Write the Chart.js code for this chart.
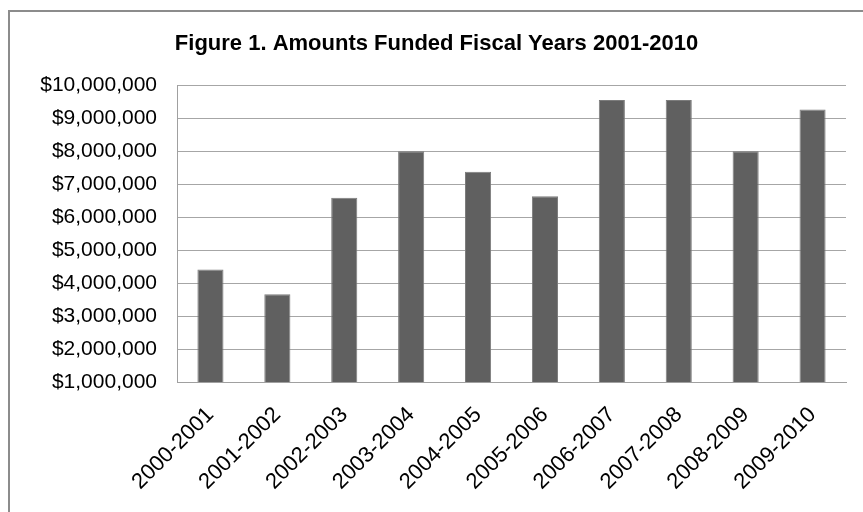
<!DOCTYPE html>
<html>
<head>
<meta charset="utf-8">
<script src="https://cdn.jsdelivr.net/npm/chart.js@4.4.0/dist/chart.umd.min.js"></script>
<style>
  html, body { margin: 0; padding: 0; background: #fff; overflow: hidden; }
  #wrap { position: relative; width: 863px; height: 512px; }
  #frame {
    position: absolute; left: 8px; top: 10px; width: 900px; height: 600px;
    border-left: 2px solid #8c8c8c; border-top: 2px solid #8c8c8c;
    box-sizing: border-box; pointer-events: none;
  }
  canvas { position: absolute; left: 0; top: 0; }
</style>
</head>
<body>
<div id="wrap">
  <canvas id="chart" width="863" height="512"></canvas>
  <div id="frame"></div>
</div>
<script>
const title = "Figure 1. Amounts Funded Fiscal Years 2001-2010";
const years = ["2000-2001", "2001-2002", "2002-2003", "2003-2004", "2004-2005",
  "2005-2006", "2006-2007", "2007-2008", "2008-2009", "2009-2010"];
const amounts = [4410000, 3660000, 6590000, 8000000, 7380000,
  6640000, 9560000, 9560000, 8000000, 9270000];
const yMin = 1000000;
const yMax = 10000000;
const yStep = 1000000;

const money = (v) => "$" + Number(v).toLocaleString("en-US");

Chart.defaults.font.family = "'Liberation Sans', Arial, sans-serif";
Chart.defaults.color = "#000";

new Chart(document.getElementById("chart").getContext("2d"), {
  type: "bar",
  data: {
    labels: years,
    datasets: [{
      label: "Amount funded",
      data: amounts,
      backgroundColor: "#606060",
      borderColor: "#7c7c7c",
      borderWidth: 1,
      barPercentage: 0.39,
      categoryPercentage: 1,
    }],
  },
  options: {
    responsive: false,
    animation: false,
    layout: { padding: { left: 27, right: 17, top: 0, bottom: 0 } },
    plugins: {
      legend: { display: false },
      tooltip: { enabled: false },
      title: {
        display: true,
        text: title,
        font: { size: 22, weight: "bold" },
        color: "#000",
        padding: { top: 31, bottom: 28 },
      },
    },
    scales: {
      x: {
        grid: { display: false, drawTicks: false },
        border: { color: "#a0a0a0" },
        ticks: { minRotation: 45, maxRotation: 45, font: { size: 22 }, padding: 20 },
        afterFit: (s) => { s.height = 130; },
      },
      y: {
        min: yMin,
        max: yMax,
        grid: { color: "#a6a6a6", drawTicks: false },
        border: { color: "#a0a0a0" },
        ticks: { stepSize: yStep, font: { size: 21 }, padding: 20, callback: (v) => money(v) },
        afterFit: (s) => { s.width = 150; },
      },
    },
  },
});
</script>
</body>
</html>
